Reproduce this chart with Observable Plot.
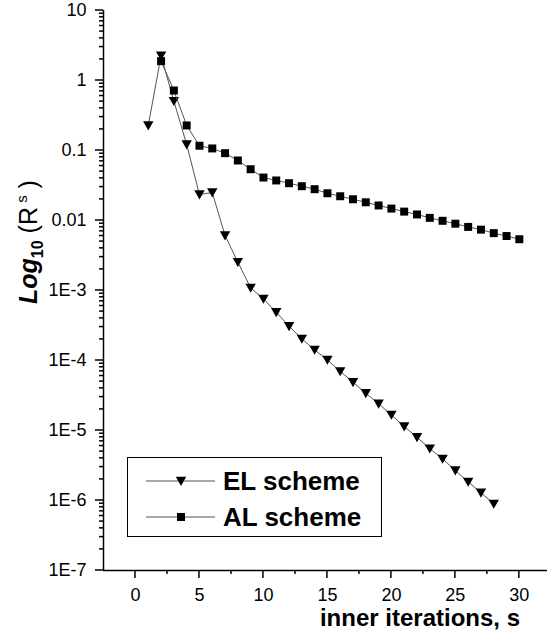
<!DOCTYPE html>
<html>
<head>
<meta charset="utf-8">
<script src="https://cdn.jsdelivr.net/npm/d3@7"></script>
<script src="https://cdn.jsdelivr.net/npm/@observablehq/plot@0.6"></script>
<style>
  body { margin: 0; background: #fff; }
  #chart { width: 547px; height: 640px; }
</style>
</head>
<body>
<div id="chart"></div>
<script>
// Residual history of the inner iterations for the two schemes
const iterEL = [1, 2, 3, 4, 5, 6, 7, 8, 9, 10, 11, 12, 13, 14, 15, 16, 17, 18, 19, 20, 21, 22, 23, 24, 25, 26, 27, 28];
const residEL = [0.228, 2.27, 0.507, 0.122, 0.0235, 0.0251, 0.0061, 0.00254, 0.00109, 7.6e-4,
  4.9e-4, 3.09e-4, 2.04e-4, 1.42e-4, 1.02e-4, 7.0e-5, 4.9e-5, 3.41e-5, 2.41e-5, 1.67e-5,
  1.14e-5, 8.0e-6, 5.5e-6, 3.94e-6, 2.68e-6, 1.85e-6, 1.29e-6, 8.97e-7];

const iterAL = [2, 3, 4, 5, 6, 7, 8, 9, 10, 11, 12, 13, 14, 15, 16, 17, 18, 19, 20, 21, 22, 23, 24, 25, 26, 27, 28, 29, 30];
const residAL = [1.89, 0.72, 0.228, 0.117, 0.107, 0.0916, 0.072, 0.054, 0.0411, 0.0373,
  0.0341, 0.0309, 0.028, 0.0245, 0.0222, 0.0201, 0.0182, 0.0164, 0.0148, 0.0134,
  0.0122, 0.0109, 0.0099, 0.0090, 0.0081, 0.0074, 0.0066, 0.0060, 0.0054];

const seriesNames = ["EL scheme", "AL scheme"];

const yTickValues = [10, 1, 0.1, 0.01, 1e-3, 1e-4, 1e-5, 1e-6, 1e-7];
const yTickLabels = ["10", "1", "0.1", "0.01", "1E-3", "1E-4", "1E-5", "1E-6", "1E-7"];
const xTickValues = [0, 5, 10, 15, 20, 25, 30];
const xMinorTicks = [2.5, 7.5, 12.5, 17.5, 22.5, 27.5];
const xAxisTitle = "inner iterations, s";

// minor log ticks 2..9 within each decade
const yMinorTicks = [];
for (let k = -7; k < 1; k++) for (let m = 2; m <= 9; m++) yMinorTicks.push(m * Math.pow(10, k));

const el = iterEL.map((s, i) => ({s, r: residEL[i]}));
const al = iterAL.map((s, i) => ({s, r: residAL[i]}));

const yLabelOf = new Map(yTickValues.map((v, i) => [v, yTickLabels[i]]));

// downward-pointing triangle symbol
const triangleDown = {
  draw(context, size) {
    const r = Math.sqrt(size / Math.PI);
    context.moveTo(-r, -0.8 * r);
    context.lineTo(r, -0.8 * r);
    context.lineTo(0, 0.95 * r);
    context.closePath();
  }
};

const FONT = "'Liberation Sans', Arial, Helvetica, sans-serif";
const lineColor = "#555";
const MAJOR = 8, MINOR = 4;

const plot = Plot.plot({
  width: 547,
  height: 640,
  marginLeft: 103,
  marginRight: 0,
  marginTop: 10,
  marginBottom: 70,
  style: {fontFamily: FONT, fontSize: "18px"},
  x: {domain: [-2.5, 32.2]},
  y: {type: "log", domain: [1e-7, 10]},
  marks: [
    // tick labels only; the tick strokes are added below
    Plot.axisY({ticks: yTickValues, tickSize: 0, tickPadding: MAJOR + 9, tickFormat: (d) => yLabelOf.get(d), label: null, fontSize: 18}),
    Plot.axisX({ticks: xTickValues, tickSize: 0, tickPadding: MAJOR + 10, label: null, fontSize: 18}),
    Plot.ruleX([-2.5], {stroke: "black", strokeWidth: 1.5}),
    Plot.ruleY([1e-7], {stroke: "black", strokeWidth: 1.5}),
    Plot.line(el, {x: "s", y: "r", stroke: lineColor, strokeWidth: 1}),
    Plot.dot(el, {x: "s", y: "r", symbol: triangleDown, r: 5.2, fill: "black", stroke: "none"}),
    Plot.line(al, {x: "s", y: "r", stroke: lineColor, strokeWidth: 1}),
    Plot.dot(al, {x: "s", y: "r", symbol: "square", r: 4.5, fill: "black", stroke: "none"})
  ]
});

document.getElementById("chart").appendChild(plot);

const svg = d3.select(plot);
const xs = plot.scale("x"), ys = plot.scale("y");
const frameLeft = xs.apply(-2.5), frameBottom = ys.apply(1e-7);

// outward tick strokes along both axes, placed through the plot's scales
const tickLayer = svg.append("g").attr("stroke", "black").attr("stroke-width", 1.5);
for (const [vals, len] of [[yTickValues, MAJOR], [yMinorTicks, MINOR]]) {
  for (const v of vals) {
    const y = ys.apply(v);
    tickLayer.append("line").attr("x1", frameLeft - len).attr("x2", frameLeft).attr("y1", y).attr("y2", y);
  }
}
for (const [vals, len] of [[xTickValues, MAJOR], [xMinorTicks, MINOR]]) {
  for (const v of vals) {
    const x = xs.apply(v);
    tickLayer.append("line").attr("x1", x).attr("x2", x).attr("y1", frameBottom).attr("y2", frameBottom + len);
  }
}

// y-axis title: Log10 (R^s)
const yTitle = svg.append("text")
  .attr("transform", "translate(37,242) rotate(-90)")
  .attr("text-anchor", "middle")
  .attr("font-family", FONT)
  .attr("fill", "black");
yTitle.append("tspan").attr("font-size", 25).attr("font-weight", "bold").attr("font-style", "italic").text("Log");
yTitle.append("tspan").attr("font-size", 16).attr("font-weight", "bold").attr("dy", 6).text("10");
yTitle.append("tspan").attr("font-size", 25).attr("dy", -6).text(" (R");
yTitle.append("tspan").attr("font-size", 15).attr("dy", -10).text(" s");
yTitle.append("tspan").attr("font-size", 25).attr("dy", 10).text(" )");

// x-axis title
svg.append("text")
  .attr("x", 520).attr("y", 626)
  .attr("text-anchor", "end")
  .attr("font-family", FONT)
  .attr("font-size", 24)
  .attr("font-weight", "bold")
  .attr("fill", "black")
  .text(xAxisTitle);

// legend box
const legend = svg.append("g").attr("font-family", FONT).attr("text-anchor", "start");
legend.append("rect")
  .attr("x", 127.5).attr("y", 457.5).attr("width", 254).attr("height", 79)
  .attr("fill", "white").attr("stroke", "black").attr("stroke-width", 1);
const legendRows = [
  {name: seriesNames[0], y: 481, symbol: triangleDown, r: 5.2},
  {name: seriesNames[1], y: 517, symbol: d3.symbolSquare, r: 4.5}
];
for (const row of legendRows) {
  legend.append("line")
    .attr("x1", 146).attr("x2", 215).attr("y1", row.y).attr("y2", row.y)
    .attr("stroke", lineColor).attr("stroke-width", 1);
  legend.append("path")
    .attr("transform", `translate(181,${row.y})`)
    .attr("d", d3.symbol(row.symbol, row.r * row.r * Math.PI)())
    .attr("fill", "black");
  legend.append("text")
    .attr("x", 223).attr("y", row.y + 9)
    .attr("text-anchor", "start")
    .attr("font-size", 26).attr("font-weight", "bold").attr("fill", "black")
    .text(row.name);
}
</script>
</body>
</html>
